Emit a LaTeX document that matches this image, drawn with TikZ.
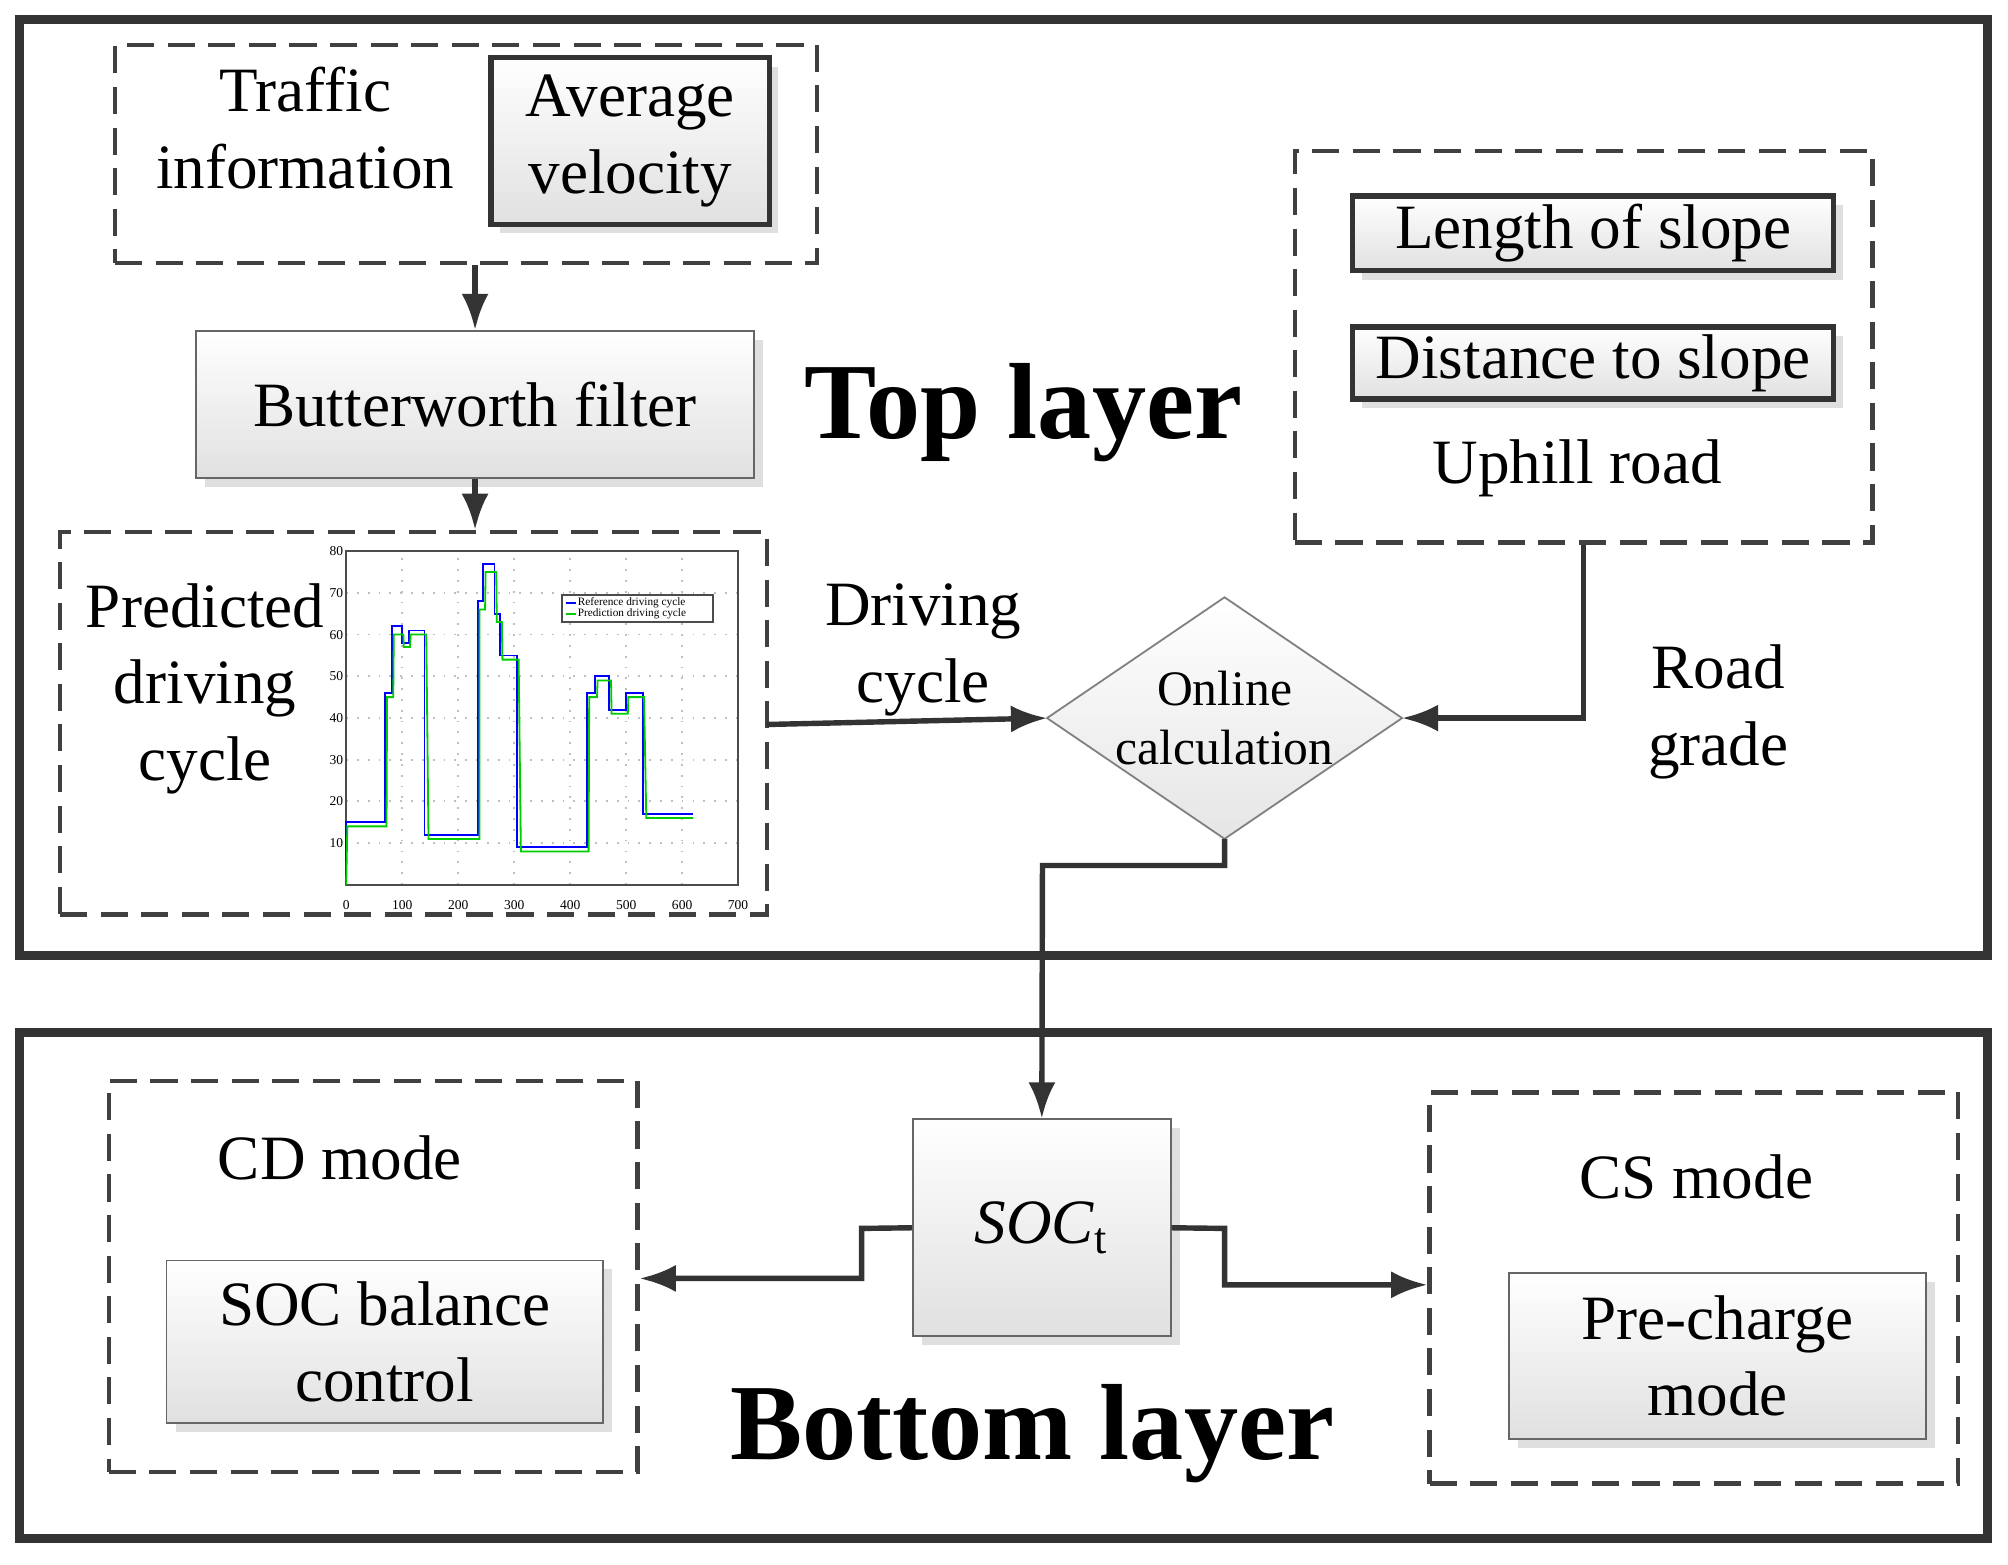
\documentclass[tikz,border=0pt]{standalone}
\usepackage{fontspec}
\setmainfont{Liberation Serif}
\usetikzlibrary{shapes.geometric,arrows.meta,shadows}
\begin{document}
\begin{tikzpicture}[x=0.01cm,y=-0.01cm,
 layer/.style={draw=black!80,line width=2pt},
 dbox/.style={draw=black!75,dashed,line width=1pt,dash pattern=on 6pt off 3pt},
 gbox/.style={draw=black!60,top color=white,bottom color=black!12,drop shadow={shadow xshift=2pt,shadow yshift=-2pt,opacity=0.25}},
 txt/.style={font=\fontsize{14}{17}\selectfont,align=center},
 arr/.style={draw=black!80,line width=1.2pt,-{Latex[length=8pt,width=6pt]}},
 ln/.style={draw=black!80,line width=1.2pt}]
\useasboundingbox (0,0) rectangle (1566,1220);
\draw[layer] (15,15) rectangle (1550,745);
\draw[layer] (15,805) rectangle (1550,1200);
% traffic
\node[dbox,minimum width=5.47cm,minimum height=1.70cm,inner sep=0] (traf) at (363.5,120) {};
\node[txt] (ti) at (238,100) {Traffic\\information};
\node[gbox,txt,draw=black!80,line width=1.2pt,minimum width=2.17cm,minimum height=1.30cm,inner sep=0] (av) at (491.5,110) {Average\\velocity};
\node[gbox,txt,minimum width=4.35cm,minimum height=1.15cm,inner sep=0] (bw) at (370.5,315.5) {Butterworth filter};
\node[dbox,minimum width=5.51cm,minimum height=2.98cm,inner sep=0] (pred) at (322.5,564) {};
\node[txt] (pt) at (160,537) {Predicted\\driving\\cycle};
% plot
\begin{scope}[shift={(270,690)},x=0.004357cm,y=0.0325cm]
 \draw[black!25,dotted] \foreach \t in {100,200,...,600}{(\t,0)--(\t,80)} \foreach \v in {10,20,...,70}{(0,\v)--(700,\v)};
 \draw[black!70] (0,0) rectangle (700,80);
 \foreach \t in {0,100,...,700}\node[font=\fontsize{3}{3}\selectfont,below] at (\t,0) {\t};
 \foreach \v in {10,20,...,80}\node[font=\fontsize{3}{3}\selectfont,left,inner sep=0.5pt] at (0,\v) {\v};
 \draw[blue,line width=0.4pt] (0,0)--(0,15)--(70,15)--(70,46)--(82,46)--(82,62)--(100,62)--(100,58)--(112,58)--(112,61)--(140,61)--(140,12)--(235,12)--(235,68)--(245,68)--(245,77)--(265,77)--(265,65)--(275,65)--(275,55)--(305,55)--(305,9)--(430,9)--(430,46)--(445,46)--(445,50)--(470,50)--(470,42)--(500,42)--(500,46)--(530,46)--(530,17)--(620,17);
 \draw[green!80!black,line width=0.4pt] (0,0)--(2,14)--(72,14)--(73,45)--(84,45)--(85,60)--(102,60)--(103,57)--(114,57)--(115,60)--(143,60)--(147,11)--(238,11)--(238,66)--(248,66)--(249,75)--(268,75)--(269,63)--(278,63)--(279,54)--(308,54)--(312,8)--(433,8)--(434,45)--(448,45)--(449,49)--(473,49)--(474,41)--(503,41)--(504,45)--(532,45)--(536,16)--(620,16);
 \draw[black!70,fill=white] (385,63) rectangle (655,69.5);
 \draw[blue] (392,67.5)--(410,67.5); \draw[green!80!black] (392,65)--(410,65);
 \node[font=\fontsize{2.5}{3}\selectfont,right,inner sep=0] at (412,67.7) {Reference driving cycle};
 \node[font=\fontsize{2.5}{3}\selectfont,right,inner sep=0] at (412,65) {Prediction driving cycle};
\end{scope}
\node[font=\fontsize{24}{28}\selectfont\bfseries] (top) at (798,322) {Top layer};
% uphill
\node[dbox,minimum width=4.50cm,minimum height=3.05cm,inner sep=0] (up) at (1235,270.5) {};
\node[gbox,txt,draw=black!80,line width=1.2pt,minimum width=3.75cm,minimum height=0.58cm,inner sep=0] (ls) at (1242.5,182) {Length of slope};
\node[gbox,txt,draw=black!80,line width=1.2pt,minimum width=3.75cm,minimum height=0.56cm,inner sep=0] (ds) at (1242.5,283) {Distance to slope};
\node[txt] (ur) at (1230,365) {Uphill road};
\node[diamond,draw=black!50,top color=white,bottom color=black!10,minimum width=2.45cm,minimum height=1.68cm,inner sep=0,outer sep=0,aspect=1.47,font=\fontsize{11}{13}\selectfont,align=center] (oc) at (955,560) {Online\\calculation};
\node[txt] (dc) at (720,507) {Driving\\cycle};
\node[txt] (rg) at (1340,555) {Road\\grade};
\coordinate (p1) at (598,565);
\draw[arr] (p1) -- (oc.west);
\draw[arr] (up.south) |- (oc.east);
\node[gbox,minimum width=2.01cm,minimum height=1.69cm,inner sep=0,font=\fontsize{14}{17}\selectfont] (soc) at (812.5,957.5) {\textit{SOC}\textsubscript{t}};
\draw[arr] (oc.south) -- (955,675) -- (813,675) -- (soc.north);
% CD
\node[dbox,minimum width=4.12cm,minimum height=3.05cm,inner sep=0] (cd) at (291,995.5) {};
\node[txt] (cdt) at (265,903) {CD mode};
\node[gbox,txt,minimum width=3.40cm,minimum height=1.27cm,inner sep=0] (sb) at (300,1046.5) {SOC balance\\control};
\node[dbox,minimum width=4.12cm,minimum height=3.05cm,inner sep=0] (cs) at (1321,1004.5) {};
\node[txt] (cst) at (1323,918) {CS mode};
\node[gbox,txt,minimum width=3.25cm,minimum height=1.29cm,inner sep=0] (pc) at (1339.5,1057.5) {Pre-charge\\mode};
\draw[arr] (soc.west) -- (672,958) -- (672,997) -- (cd.east |- 0,997);
\draw[arr] (soc.east) -- (955,958) -- (955,1002) -- (cs.west |- 0,1002);
\node[font=\fontsize{24}{28}\selectfont\bfseries] (bot) at (805,1118) {Bottom layer};
\draw[arr] (traf.south -| bw.north) -- (bw.north);
\draw[arr] (bw.south) -- (pred.north -| bw.south);
\end{tikzpicture}
\end{document}
